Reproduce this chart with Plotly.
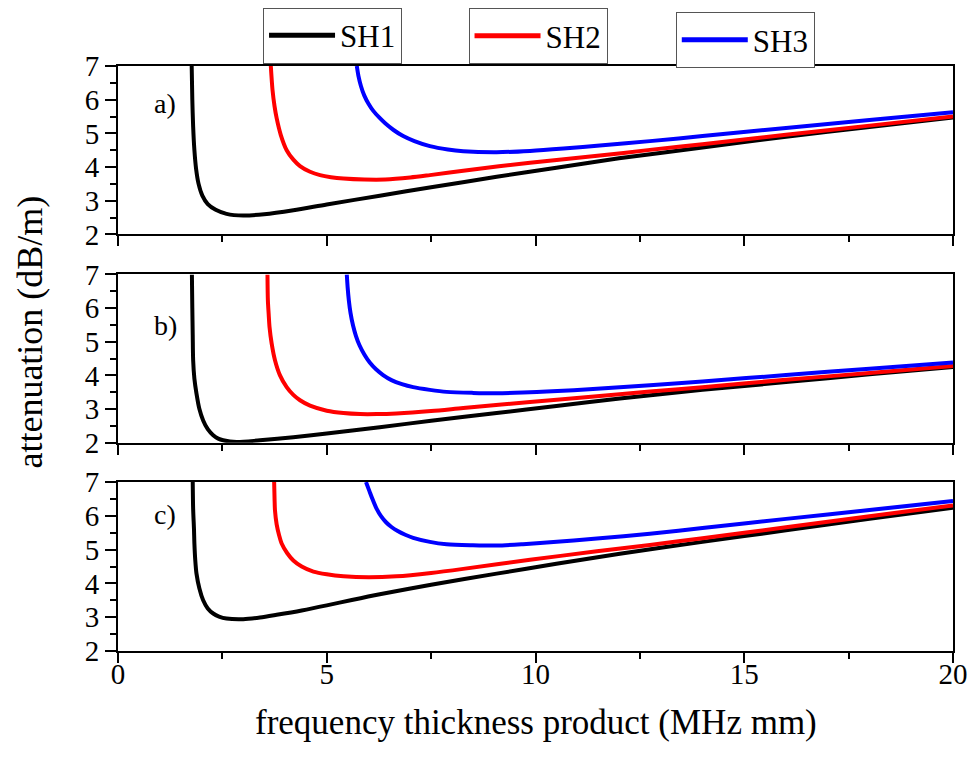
import plotly.graph_objects as go

# ---------------- data ----------------
series_names = ["SH1", "SH2", "SH3"]
colors = ["#000000", "#ff0000", "#0000ff"]
panel_labels = ["a)", "b)", "c)"]

# panel a
a_sh1_x = [1.765, 1.78, 1.80, 1.83, 1.87, 1.93, 2.02, 2.15, 2.34, 2.60, 3.0, 3.5, 4.2, 5.0, 6.27, 7.5, 9.07, 10.5, 12.0, 14.0, 16.0, 18.0, 20.0]
a_sh1_y = [7.0, 6.0, 5.2, 4.5, 3.95, 3.5, 3.15, 2.90, 2.73, 2.61, 2.56, 2.60, 2.72, 2.89, 3.15, 3.40, 3.71, 3.98, 4.26, 4.58, 4.90, 5.19, 5.47]
a_sh2_x = [3.66, 3.70, 3.75, 3.80, 3.90, 4.04, 4.20, 4.36, 4.60, 4.84, 5.10, 5.40, 5.90, 6.40, 7.00, 7.47, 8.27, 9.87, 11.54, 12.74, 14.0, 16.0, 18.0, 20.0]
a_sh2_y = [7.0, 6.3, 5.8, 5.45, 4.95, 4.50, 4.22, 4.03, 3.86, 3.76, 3.70, 3.66, 3.63, 3.63, 3.69, 3.76, 3.89, 4.13, 4.34, 4.51, 4.68, 4.96, 5.23, 5.50]
a_sh3_x = [5.72, 5.76, 5.82, 5.90, 6.00, 6.12, 6.25, 6.40, 6.60, 6.83, 7.10, 7.47, 7.90, 8.27, 9.07, 9.87, 10.67, 11.54, 12.74, 14.0, 16.0, 18.0, 20.0]
a_sh3_y = [7.0, 6.70, 6.40, 6.12, 5.88, 5.66, 5.48, 5.30, 5.10, 4.92, 4.77, 4.62, 4.52, 4.47, 4.44, 4.48, 4.55, 4.64, 4.77, 4.92, 5.16, 5.40, 5.63]

# panel b
b_sh1_x = [1.77, 1.78, 1.79, 1.80, 1.83, 1.88, 1.95, 2.04, 2.15, 2.28, 2.40, 2.52, 2.84, 3.40, 4.2, 5.0, 6.27, 7.5, 9.07, 10.5, 12.02, 14.0, 16.0, 18.0, 20.0]
b_sh1_y = [7.0, 6.0, 5.2, 4.45, 3.90, 3.46, 3.0, 2.66, 2.40, 2.22, 2.12, 2.07, 2.02, 2.07, 2.16, 2.27, 2.46, 2.65, 2.88, 3.09, 3.31, 3.57, 3.80, 4.03, 4.25]
b_sh2_x = [3.58, 3.59, 3.61, 3.63, 3.68, 3.76, 3.88, 4.04, 4.20, 4.36, 4.60, 5.0, 5.40, 5.80, 6.20, 6.67, 7.5, 8.27, 9.87, 11.47, 12.74, 14.0, 16.0, 18.0, 20.0]
b_sh2_y = [7.0, 6.23, 5.8, 5.43, 4.95, 4.45, 4.0, 3.65, 3.42, 3.26, 3.10, 2.95, 2.88, 2.85, 2.85, 2.87, 2.94, 3.03, 3.21, 3.38, 3.52, 3.65, 3.87, 4.07, 4.28]
b_sh3_x = [5.48, 5.50, 5.53, 5.57, 5.63, 5.70, 5.79, 5.90, 6.03, 6.18, 6.35, 6.55, 6.80, 7.07, 7.47, 7.87, 8.50, 9.07, 9.70, 10.27, 11.47, 12.74, 14.0, 16.0, 18.0, 20.0]
b_sh3_y = [7.0, 6.62, 6.22, 5.85, 5.48, 5.17, 4.88, 4.62, 4.38, 4.18, 4.01, 3.86, 3.74, 3.65, 3.57, 3.51, 3.48, 3.47, 3.49, 3.52, 3.60, 3.71, 3.82, 4.01, 4.20, 4.38]

# panel c
c_sh1_x = [1.79, 1.80, 1.82, 1.83, 1.85, 1.88, 1.95, 2.04, 2.15, 2.28, 2.42, 2.60, 3.0, 3.4, 3.8, 4.4, 5.0, 5.6, 6.27, 7.5, 9.07, 10.5, 12.02, 14.0, 16.0, 18.0, 20.0]
c_sh1_y = [7.0, 6.2, 5.6, 5.18, 4.7, 4.29, 3.85, 3.50, 3.26, 3.11, 3.02, 2.96, 2.94, 2.99, 3.07, 3.20, 3.35, 3.51, 3.68, 3.96, 4.29, 4.58, 4.88, 5.23, 5.57, 5.91, 6.24]
c_sh2_x = [3.74, 3.75, 3.76, 3.80, 3.86, 3.92, 4.05, 4.20, 4.40, 4.68, 5.0, 5.4, 6.0, 6.67, 7.5, 8.27, 9.87, 11.47, 12.74, 14.0, 16.0, 18.0, 20.0]
c_sh2_y = [7.0, 6.5, 6.16, 5.75, 5.42, 5.18, 4.90, 4.68, 4.50, 4.35, 4.27, 4.21, 4.18, 4.21, 4.31, 4.43, 4.70, 4.95, 5.14, 5.34, 5.66, 5.99, 6.31]
c_sh3_x = [5.94, 6.02, 6.10, 6.19, 6.30, 6.42, 6.55, 6.70, 6.88, 7.07, 7.47, 7.87, 8.50, 9.07, 9.70, 10.27, 11.47, 12.74, 14.0, 16.0, 18.0, 20.0]
c_sh3_y = [7.0, 6.74, 6.48, 6.22, 5.99, 5.81, 5.67, 5.55, 5.44, 5.35, 5.23, 5.16, 5.13, 5.12, 5.16, 5.21, 5.33, 5.47, 5.64, 5.91, 6.17, 6.44]

label_pos_x = [1.13, 1.13, 1.13]
label_pos_y = [5.89, 5.48, 6.04]

x_title = "frequency thickness product (MHz mm)"
y_title = "attenuation (dB/m)"

panels = [
    [(a_sh1_x, a_sh1_y), (a_sh2_x, a_sh2_y), (a_sh3_x, a_sh3_y)],
    [(b_sh1_x, b_sh1_y), (b_sh2_x, b_sh2_y), (b_sh3_x, b_sh3_y)],
    [(c_sh1_x, c_sh1_y), (c_sh2_x, c_sh2_y), (c_sh3_x, c_sh3_y)],
]

FONT = "Liberation Serif, Times New Roman, serif"

fig = go.Figure()
legend_ids = ["legend", "legend2", "legend3"]
for p, panel in enumerate(panels):
    sfx = "" if p == 0 else str(p + 1)
    for s, (xs, ys) in enumerate(panel):
        fig.add_trace(go.Scatter(
            x=xs, y=ys, mode="lines", name=series_names[s],
            line=dict(color=colors[s], width=4, shape="spline", smoothing=0.8),
            xaxis="x" + sfx, yaxis="y" + sfx,
            showlegend=(p == 0), legend=legend_ids[s],
        ))

# domains (paper fractions)
domains = [[0.7121, 1.0], [0.3561, 0.6437], [0.0, 0.2888]]

layout = dict(
    width=972, height=758,
    margin=dict(l=118, r=19, t=65.5, b=107.3, autoexpand=False),
    paper_bgcolor="white", plot_bgcolor="white",
    font=dict(family=FONT, color="black", size=28),
)
for p in range(3):
    sfx = "" if p == 0 else str(p + 1)
    layout["xaxis" + sfx] = dict(
        domain=[0, 1], anchor="y" + sfx, range=[0, 20], dtick=5, tick0=0,
        showgrid=False, zeroline=False, showline=True, linecolor="black", linewidth=2,
        mirror=True, ticks="outside", ticklen=10, tickwidth=2, tickcolor="black",
        minor=dict(dtick=2.5, ticks="outside", ticklen=6, tickwidth=2, tickcolor="black"),
        showticklabels=(p == 2), tickfont=dict(size=29, family=FONT, color="black"),
        ticklabelstandoff=-14, fixedrange=True, automargin=False,
    )
    layout["yaxis" + sfx] = dict(
        domain=domains[p], anchor="x" + sfx, range=[2, 7], dtick=1, tick0=2,
        showgrid=False, zeroline=False, showline=True, linecolor="black", linewidth=2,
        mirror=True, ticks="outside", ticklen=11, tickwidth=2, tickcolor="black",
        minor=dict(dtick=0.5, ticks="outside", ticklen=6, tickwidth=2, tickcolor="black"),
        tickfont=dict(size=29, family=FONT, color="black"), fixedrange=True,
        automargin=False,
    )

leg_common = dict(
    bgcolor="white", bordercolor="#555555", borderwidth=1,
    font=dict(size=31, family=FONT), xanchor="left", yanchor="top",
    itemsizing="constant", itemwidth=66,
)
layout["legend"] = dict(x=0.1737, y=1.100, **leg_common)
layout["legend2"] = dict(x=0.4198, y=1.099, **leg_common)
layout["legend3"] = dict(x=0.668, y=1.092, **leg_common)

annotations = []
for p in range(3):
    sfx = "" if p == 0 else str(p + 1)
    annotations.append(dict(
        text=panel_labels[p], x=label_pos_x[p], y=label_pos_y[p],
        xref="x" + sfx, yref="y" + sfx, showarrow=False,
        font=dict(size=28, family=FONT),
    ))
annotations.append(dict(
    text=x_title, x=0.5, y=-0.1218, xref="paper", yref="paper",
    showarrow=False, xanchor="center", yanchor="middle",
    font=dict(size=35, family=FONT),
))
annotations.append(dict(
    text=y_title, x=-0.1054, y=0.546, xref="paper", yref="paper",
    showarrow=False, xanchor="center", yanchor="middle", textangle=-90,
    font=dict(size=36, family=FONT),
))
layout["annotations"] = annotations

fig.update_layout(**layout)
fig.write_html("out.html")
